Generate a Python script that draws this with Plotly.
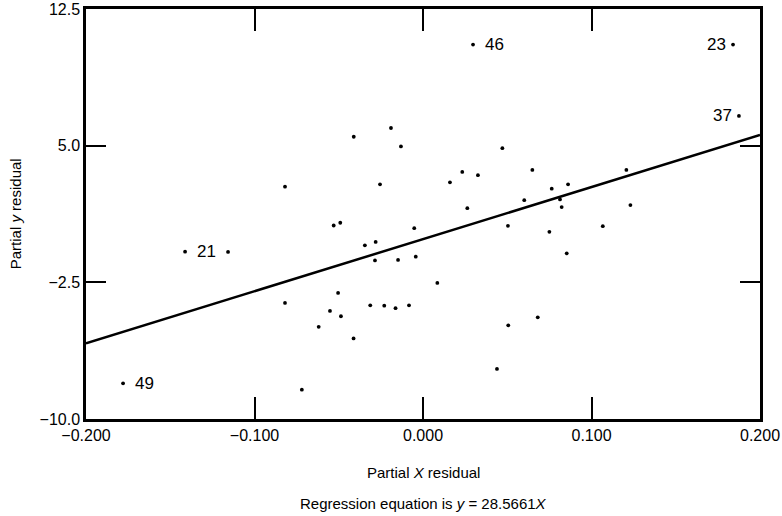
import plotly.graph_objects as go

# Scatter data (partial residuals)
x_pts = [0.0297, 0.184, 0.1875, -0.1412, -0.178,
         -0.0411, -0.0190, -0.0131, -0.0255, -0.0819,
         0.0471, 0.0233, 0.0326, 0.016, 0.0649, 0.1207, 0.0764, 0.0861,
         0.0601, 0.0813, 0.0263, 0.0823, 0.1231,
         0.0504, 0.075, 0.1067, 0.0853, 0.0085, 0.0681, 0.0506, 0.0439,
         -0.053, -0.0491, -0.0052, -0.0345, -0.0281, -0.1157, -0.0285, -0.0148,
         -0.0043, -0.0504, -0.0819, -0.0313, -0.023, -0.0163, -0.0083,
         -0.0552, -0.0487, -0.0619, -0.0412, -0.0719]
y_pts = [10.55, 10.55, 6.63, -0.82, -8.04,
         5.49, 5.97, 4.96, 2.88, 2.75,
         4.86, 3.56, 3.38, 2.99, 3.67, 3.67, 2.64, 2.88,
         2.01, 2.05, 1.57, 1.63, 1.74,
         0.60, 0.27, 0.58, -0.91, -2.53, -4.42, -4.86, -7.25,
         0.62, 0.77, 0.47, -0.47, -0.28, -0.83, -1.30, -1.27,
         -1.09, -3.08, -3.63, -3.76, -3.78, -3.92, -3.76,
         -4.07, -4.36, -4.94, -5.58, -8.39]

# Labeled observations
lab_x = [0.0297, 0.184, 0.1875, -0.1412, -0.178]
lab_y = [10.55, 10.55, 6.63, -0.82, -8.04]
lab_text = ["46", "23", "37", "21", "49"]
lab_side = ["right", "left", "left", "right", "right"]

# Regression line
slope = 28.5661
intercept = -0.13
line_x = [-0.2, 0.2]
line_y = [intercept + slope * v for v in line_x]

x_ticks = [-0.2, -0.1, 0.0, 0.1, 0.2]
y_ticks = [12.5, 5.0, -2.5, -10.0]

FONT = "Liberation Sans, Arial, sans-serif"

fig = go.Figure()
fig.add_trace(go.Scatter(x=line_x, y=line_y, mode="lines",
                         line=dict(color="black", width=2.5),
                         hoverinfo="skip", showlegend=False))
fig.add_trace(go.Scatter(x=x_pts, y=y_pts, mode="markers",
                         marker=dict(color="black", size=3.8),
                         showlegend=False))

for xx, yy, t, side in zip(lab_x, lab_y, lab_text, lab_side):
    fig.add_annotation(x=xx, y=yy, text=t, showarrow=False,
                       xanchor="left" if side == "right" else "right",
                       xshift=10 if side == "right" else -5,
                       font=dict(family=FONT, size=17, color="black"))

fig.add_annotation(xref="paper", yref="paper", x=0.5, y=-0.13,
                   text="Partial <i>X</i> residual", showarrow=False,
                   xanchor="center", yanchor="middle",
                   font=dict(family=FONT, size=15, color="black"))
fig.add_annotation(xref="paper", yref="paper", x=0.5, y=-0.205,
                   text="Regression equation is <i>y</i> = 28.5661<i>X</i>",
                   showarrow=False, xanchor="center", yanchor="middle",
                   font=dict(family=FONT, size=15, color="black"))
fig.add_annotation(xref="paper", yref="paper", x=-0.105, y=0.5,
                   text="Partial <i>y</i> residual", showarrow=False,
                   textangle=-90, xanchor="center", yanchor="middle",
                   font=dict(family=FONT, size=15, color="black"))

fig.update_xaxes(range=[-0.2, 0.2], tickvals=x_ticks, tickformat=".3f",
                 ticks="inside", ticklen=22, tickwidth=2, tickcolor="black",
                 showline=True, linewidth=2.5, linecolor="black", mirror="ticks",
                 showgrid=False, zeroline=False, automargin=False,
                 tickfont=dict(family=FONT, size=16, color="black"))
fig.update_yaxes(range=[-10, 12.5], tickvals=y_ticks, tickformat=".1f",
                 ticks="inside", ticklen=20, tickwidth=2, tickcolor="black",
                 showline=True, linewidth=2.5, linecolor="black", mirror="ticks",
                 showgrid=False, zeroline=False, automargin=False,
                 tickfont=dict(family=FONT, size=16, color="black"))

fig.update_layout(width=782, height=516,
                  margin=dict(l=86, r=22, t=9, b=97),
                  paper_bgcolor="white", plot_bgcolor="white",
                  font=dict(family=FONT, color="black"))

fig.write_html("out.html")
